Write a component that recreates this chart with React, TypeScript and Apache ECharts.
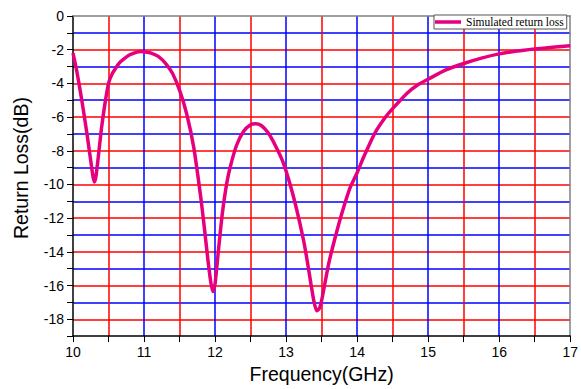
import React, { useEffect, useRef } from "react";
import * as echarts from "echarts";

const frequency = [
  10.0, 10.05, 10.1, 10.15, 10.2, 10.25, 10.28, 10.3, 10.32, 10.35, 10.4, 10.45, 10.5, 10.55, 10.6, 10.65, 10.7,
  10.8, 10.9, 10.95, 11.0, 11.1, 11.2, 11.3, 11.4, 11.5, 11.6, 11.7, 11.8, 11.85, 11.9, 11.94, 11.97, 12.0,
  12.05, 12.1, 12.15, 12.2, 12.3, 12.4, 12.5, 12.57, 12.65, 12.75, 12.85, 12.95, 13.05, 13.15, 13.25, 13.3,
  13.35, 13.39, 13.43, 13.47, 13.5, 13.6, 13.7, 13.8, 13.9, 14.0, 14.1, 14.25, 14.4, 14.5, 14.7, 14.85, 15.0,
  15.25, 15.5, 15.75, 16.0, 16.25, 16.5, 16.75, 17.0,
];
const returnLoss = [
  -2.2, -3.2, -4.4, -5.7, -7.1, -8.6, -9.5, -9.85, -9.6, -8.6, -6.7, -5.2, -4.0, -3.45, -3.1, -2.8, -2.6,
  -2.3, -2.14, -2.1, -2.12, -2.2, -2.4, -2.8, -3.4, -4.4, -5.8, -7.8, -10.8, -12.6, -14.5, -15.8, -16.35, -15.9,
  -13.8, -11.8, -10.3, -9.2, -7.7, -6.85, -6.45, -6.4, -6.5, -6.95, -7.7, -8.6, -9.9, -11.5, -13.4, -14.6,
  -15.9, -16.9, -17.5, -17.35, -16.9, -14.7, -13.0, -11.5, -10.2, -9.3, -8.3, -6.95, -6.0, -5.5, -4.6, -4.1, -3.75,
  -3.2, -2.82, -2.5, -2.25, -2.08, -1.96, -1.86, -1.77,
];
const seriesName = "Simulated return loss";
const xTitle = "Frequency(GHz)";
const yTitle = "Return Loss(dB)";

export default function App() {
  const ref = useRef<HTMLDivElement>(null);
  useEffect(() => {
    if (!ref.current) return;
    const chart = echarts.init(ref.current, null, { renderer: "svg" });
    const font = "'Liberation Sans', Arial, sans-serif";
    chart.setOption({
      animation: false,
      backgroundColor: "#ffffff",
      grid: { left: 73, top: 16, right: 9, bottom: 42, containLabel: false },
      legend: {
        left: 434,
        top: 15,
        data: [{ name: seriesName, icon: "rect" }],
        itemWidth: 26,
        itemHeight: 3.5,
        padding: [1, 3, 1, 1],
        borderColor: "#555555",
        borderWidth: 1,
        backgroundColor: "#ffffff",
        textStyle: { fontFamily: "'Liberation Serif', 'Times New Roman', serif", fontSize: 11.5, color: "#000" },
      },
      xAxis: [
        {
          type: "value",
          min: 10,
          max: 17,
          interval: 0.5,
          name: xTitle,
          nameLocation: "middle",
          nameGap: 24,
          nameTextStyle: { fontFamily: font, fontSize: 19.5, color: "#000" },
          axisLine: { show: true, onZero: false, lineStyle: { color: "#000", width: 1.5 } },
          axisTick: { show: true, length: 6, lineStyle: { color: "#000", width: 1 } },
          axisLabel: {
            margin: 9,
            fontFamily: font,
            fontSize: 14,
            color: "#000",
            formatter: (v: number) => (Number.isInteger(v) ? String(v) : ""),
          },
          splitLine: {
            show: true,
            showMinLine: false,
            showMaxLine: false,
            lineStyle: { color: ["#ff0000", "#0000ff"], width: 1.5 },
          },
        },
        {
          type: "value",
          position: "top",
          min: 10,
          max: 17,
          axisLine: { show: true, onZero: false, lineStyle: { color: "#808080", width: 1.5 } },
          axisTick: { show: false },
          axisLabel: { show: false },
          splitLine: { show: false },
        },
      ],
      yAxis: [
        {
          type: "value",
          min: -19,
          max: 0,
          interval: 1,
          name: yTitle,
          nameLocation: "middle",
          nameGap: 42,
          nameTextStyle: { fontFamily: font, fontSize: 19.5, color: "#000", padding: [0, 0, 0, 16] },
          axisLine: { show: true, onZero: false, lineStyle: { color: "#000", width: 1.5 } },
          axisTick: { show: true, length: 6, lineStyle: { color: "#000", width: 1 } },
          axisLabel: {
            margin: 9,
            fontFamily: font,
            fontSize: 14,
            color: "#000",
            formatter: (v: number) => (Math.round(v) % 2 === 0 ? String(v) : ""),
          },
          splitLine: {
            show: true,
            showMinLine: false,
            showMaxLine: false,
            lineStyle: { color: ["#ff0000", "#0000ff"], width: 1.5 },
          },
        },
        {
          type: "value",
          position: "right",
          min: -19,
          max: 0,
          axisLine: { show: true, onZero: false, lineStyle: { color: "#808080", width: 1.5 } },
          axisTick: { show: false },
          axisLabel: { show: false },
          splitLine: { show: false },
        },
      ],
      series: [
        {
          name: seriesName,
          type: "line",
          xAxisIndex: 0,
          yAxisIndex: 0,
          data: frequency.map((f, i) => [f, returnLoss[i]]),
          smooth: 0.2,
          showSymbol: false,
          symbol: "none",
          itemStyle: { color: "#e6007e" },
          lineStyle: { color: "#e6007e", width: 3.5 },
          z: 5,
        },
      ],
    });
    return () => chart.dispose();
  }, []);
  return (
    <div
      ref={ref}
      style={{ position: "absolute", left: 0, top: 0, width: 581, height: 389 }}
    />
  );
}
